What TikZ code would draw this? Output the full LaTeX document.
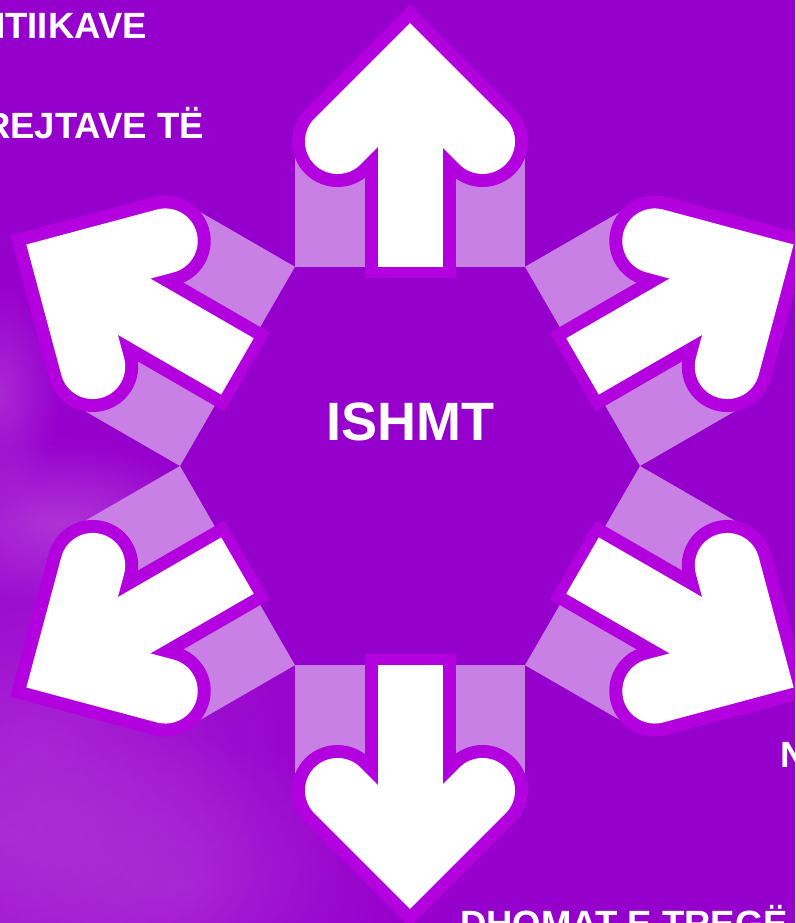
\documentclass[tikz,border=0pt]{standalone}
\usepackage{fontspec}
\usetikzlibrary{fadings}
\setmainfont{Liberation Sans}
\definecolor{bg}{RGB}{150,0,205}
\definecolor{outc}{RGB}{178,0,222}
\definecolor{bandc}{RGB}{201,128,228}
\definecolor{smoke}{RGB}{190,80,220}
\tikzfading[name=softblob, inner color=transparent!0, outer color=transparent!100]
\tikzset{
  outl/.style={line width=91pt,draw=outc},
  whitel/.style={line width=65pt,draw=white},
  lbl/.style={text=white,font=\bfseries\fontsize{36.5}{40}\selectfont,inner sep=0pt},
  blob/.style={fill=smoke,path fading=softblob,fit fading=true},
}
\begin{document}
\begin{tikzpicture}[x=1pt,y=1pt]
\useasboundingbox (0,0) rectangle (795,923);
\clip (0,0) rectangle (795,923);
\fill[bg] (0,0) rectangle (795,923);
% faint smoke at the lower left
\begin{scope}[opacity=0.35]
  \fill[blob] (40,170) ellipse (330 and 330);
  \fill[blob] (10,90) ellipse (260 and 200);
  \fill[blob] (180,40) ellipse (230 and 150);
  \fill[blob,opacity=0.5] (0,530) ellipse (60 and 110);
  \fill[blob,opacity=0.6] (60,400) ellipse (160 and 80);
\end{scope}
% hexagon
\fill[bg] (410,457) ++(0:230) -- ++(120:230) -- ++(180:230) -- ++(240:230) -- ++(300:230) -- ++(0:230) -- cycle;
% bands
\foreach \k in {0,...,5}{
  \begin{scope}[shift={(410,457)},rotate=\k*60]
    \fill[bandc] (-115,199.2) rectangle (115,325);
  \end{scope}
}
% arrows
\foreach \k in {0,...,5}{
  \begin{scope}[shift={(410,457)},rotate=\k*60]
    \draw[outl,line cap=butt] (0,188) -- (0,397);
    \draw[outl,line cap=round,line join=miter] (-72.5,324.5) -- (0,397) -- (72.5,324.5);
    \draw[whitel,line cap=butt] (0,199.2) -- (0,397);
    \draw[whitel,line cap=round,line join=miter] (-72.5,324.5) -- (0,397) -- (72.5,324.5);
  \end{scope}
}
\node[text=white,font=\bfseries\fontsize{54}{60}\selectfont,inner sep=0pt,anchor=base] (title) at (410.5,482) {ISHMT};
\node[lbl,anchor=base east] (t1) at (147,884) {NTIIKAVE};
\node[lbl,anchor=base east] (t2) at (204,784) {REJTAVE TË};
\node[lbl,anchor=base west] (t3) at (780,155) {N};
\node[lbl,anchor=base west] (t4) at (460,-13) {DHOMAT E TREGË};
\end{tikzpicture}
\end{document}
